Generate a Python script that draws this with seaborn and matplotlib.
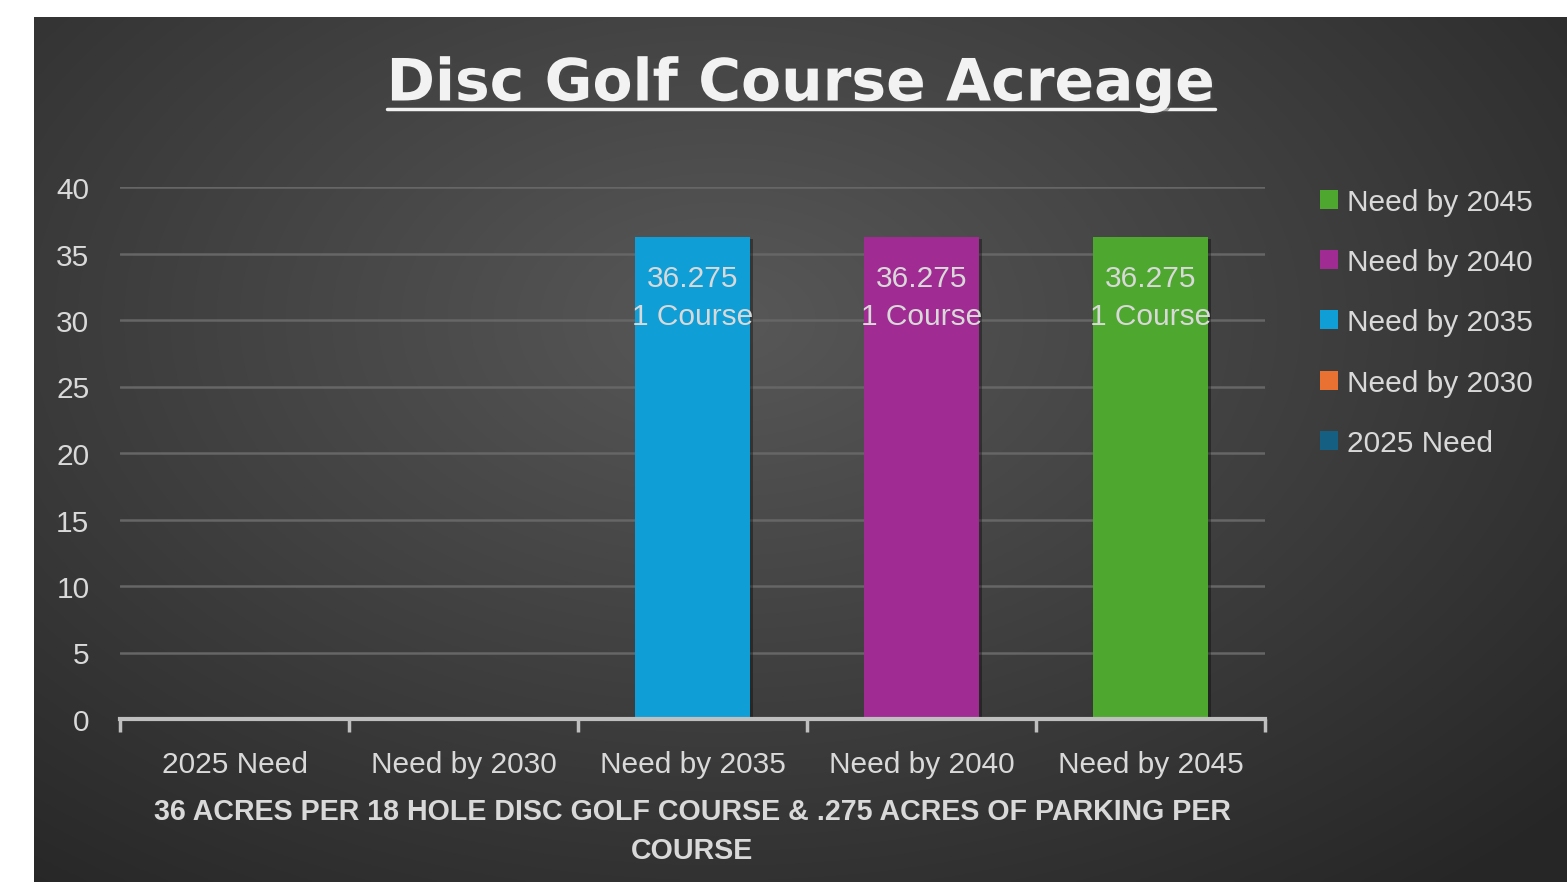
import numpy as np
import matplotlib
matplotlib.use("Agg")
import matplotlib.pyplot as plt
import matplotlib.patheffects as pe
from matplotlib.patches import Patch
from matplotlib.lines import Line2D
import seaborn as sns

# Dados do gráfico
categorias = ["2025 Need", "Need by 2030", "Need by 2035", "Need by 2040", "Need by 2045"]
acres = [0, 0, 36.275, 36.275, 36.275]
cursos = [0, 0, 1, 1, 1]
cores = ["#156082", "#E97132", "#0F9ED5", "#A02B93", "#4EA72E"]
yticks = [0, 5, 10, 15, 20, 25, 30, 35, 40]

titulo = "Disc Golf Course Acreage"
rotulo_x = "36 ACRES PER 18 HOLE DISC GOLF COURSE & .275 ACRES OF PARKING PER\nCOURSE"

sns.set_theme(style="white")
plt.rcParams["font.family"] = ["Liberation Sans", "DejaVu Sans"]

TXT = "#d9d9d9"
FS = 21.5

fig = plt.figure(figsize=(15.67, 8.87), dpi=100)
fig.patch.set_facecolor("white")

# fundo com gradiente radial (painel escuro)
W, H = 1567, 887
px0, py0, px1, py1 = 34, 18, 1567, 883
bg = fig.add_axes([px0 / W, 1 - py1 / H, (px1 - px0) / W, (py1 - py0) / H])
yy, xx = np.mgrid[0:1:400j, 0:1:700j]
d = np.sqrt(((xx - 0.45) / 0.75) ** 2 + ((yy - 0.35) / 0.85) ** 2)
d = np.clip(d, 0, 1)
val = 0.345 - 0.195 * d
img = np.dstack([val, val, val])
bg.imshow(img, aspect="auto", extent=[0, 1, 1, 0], interpolation="bilinear")
bg.set_axis_off()

ax = fig.add_axes([120 / W, 1 - 720 / H, (1265 - 120) / W, (720 - 188) / H])
ax.patch.set_alpha(0)

sns.barplot(x=categorias, y=acres, hue=categorias, palette=cores, width=0.5,
            dodge=False, legend=False, ax=ax, saturation=1, zorder=3,
            edgecolor="none", linewidth=0)

sombra = [pe.SimplePatchShadow(offset=(2.5, -1.5), alpha=0.35, shadow_rgbFace="black"),
          pe.Normal()]
for cont, v, n in zip(ax.containers, acres, cursos):
    for p in cont:
        p.set_path_effects(sombra)
    labs = [f"{v:g}\n{n} Course" if v > 0 else "" for _ in cont]
    ax.bar_label(cont, labels=labs, label_type="edge", padding=-67,
                 color=TXT, fontsize=FS, linespacing=1.45)

ax.set_ylim(0, 40)
ax.set_xlim(-0.5, len(categorias) - 0.5)
ax.set_yticks(yticks)
ax.set_yticklabels([str(t) for t in yticks])
ax.yaxis.grid(True, color="#666666", linewidth=1.8, zorder=0)
ax.xaxis.grid(False)

ax.set_xticks(np.arange(len(categorias) + 1) - 0.5)
ax.set_xticklabels([])
ax.set_xticks(np.arange(len(categorias)), minor=True)
ax.set_xticklabels(categorias, minor=True)
ax.tick_params(axis="x", which="major", bottom=True, length=9, width=2.5,
               color="#bfbfbf", direction="out")
ax.tick_params(axis="x", which="minor", bottom=True, length=0, pad=22,
               labelsize=FS, labelcolor=TXT)
ax.tick_params(axis="y", length=0, pad=22, labelsize=FS, labelcolor=TXT)
for lab in ax.get_yticklabels():
    lab.set_horizontalalignment("right")

for s in ["top", "right", "left"]:
    ax.spines[s].set_visible(False)
ax.spines["bottom"].set_color("#bfbfbf")
ax.spines["bottom"].set_linewidth(3)
ax.spines["bottom"].set_zorder(4)

ax.set_xlabel(rotulo_x, fontsize=20.6, fontweight="bold", color=TXT, labelpad=14,
              linespacing=1.5)
ax.set_ylabel("")

# título sublinhado
t = fig.text(801 / W, 1 - 85 / H, titulo, ha="center", va="center", fontsize=42,
             fontweight="bold", color="#f2f2f2", family="DejaVu Sans",
             path_effects=[pe.withSimplePatchShadow(offset=(1.5, -1.5), alpha=0.5)])
fig.canvas.draw()
bb = t.get_window_extent()
fig.add_artist(Line2D([bb.x0 / W, bb.x1 / W], [1 - 110 / H, 1 - 110 / H],
                      color="#f2f2f2", linewidth=2.5))

# legenda (ordem inversa)
handles = [Patch(facecolor=c, edgecolor="none") for c in cores][::-1]
fig.legend(handles, categorias[::-1], loc="upper left",
           bbox_to_anchor=(1293 / W, 1 - 162 / H), frameon=False, fontsize=FS,
           labelcolor=TXT, handlelength=0.6, handleheight=0.6,
           handletextpad=0.3, labelspacing=1.08)

fig.savefig("out.png", dpi=100, facecolor=fig.get_facecolor())
